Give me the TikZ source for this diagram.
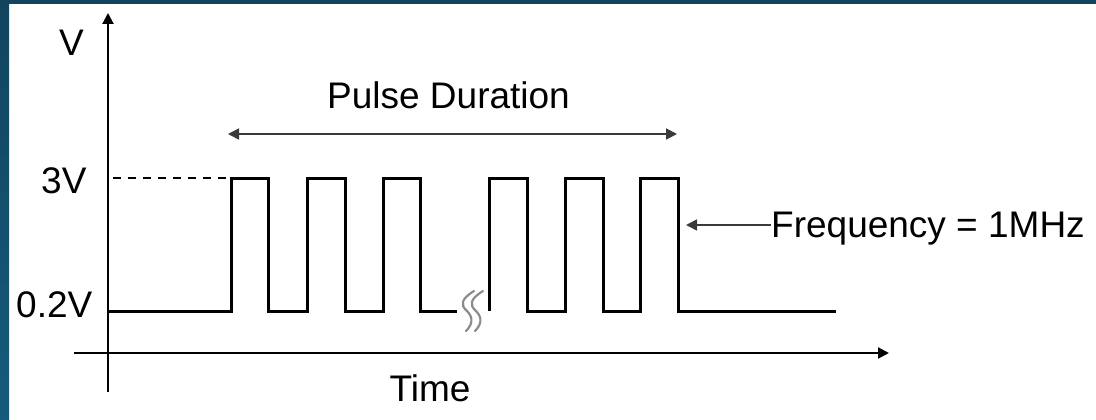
\documentclass[tikz,border=0pt]{standalone}
\usepackage{fontspec}
\setmainfont{Liberation Sans}
\usetikzlibrary{arrows.meta}
\definecolor{frametop}{HTML}{12445E}
\definecolor{framelow}{HTML}{165B7B}
\definecolor{inkgray}{HTML}{3A3A3A}
\definecolor{breakgray}{HTML}{8C8C8C}
\begin{document}
\begin{tikzpicture}[x=1pt,y=-1pt,
  lbl/.style={inner sep=0pt,font=\fontsize{37}{44}\selectfont},
  axisline/.style={line width=2pt,black},
  wave/.style={line width=3pt,black,line join=miter},
  guide/.style={line width=2pt,black,dash pattern=on 8pt off 7pt},
  span/.style={line width=1.6pt,inkgray},
  tip/.style={-{Triangle[length=11pt,width=11pt]}},
  tips/.style={{Triangle[length=11pt,width=11pt]}-{Triangle[length=11pt,width=11pt]}},
  squiggle/.style={line width=2.2pt,breakgray,line cap=round}]
\useasboundingbox (0,0) rectangle (1096,420);
% frame edges
\fill[white] (0,0) rectangle (1096,420);
\fill[frametop] (0,0) rectangle (1096,4);
\shade[top color=frametop,bottom color=framelow] (0,0) rectangle (9,420);

% axes
\coordinate (ybot) at (108,392);
\coordinate (ytop) at (108,13);
\coordinate (xleft) at (74,353);
\coordinate (xright) at (889,353);
\draw[axisline,tip] (ybot) -- (ytop);
\draw[axisline,tip] (xleft) -- (xright);

% axis and level labels
\node[lbl,anchor=base] (vlab) at (71.5,56) {V};
\node[lbl,anchor=base west] (hilab) at (41,193) {3V};
\node[lbl,anchor=base west] (lolab) at (16,317) {0.2V};
\node[lbl,anchor=base] (tlab) at (430,401) {Time};

% 3V guide
\coordinate (g1) at (113,178);
\coordinate (g2) at (229,178);
\draw[guide] (g1) -- (g2);

% pulse train, first burst
\draw[wave] (108,311) -- (231,311) -- (231,178) -- (268,178) -- (268,311)
  -- (307,311) -- (307,178) -- (345,178) -- (345,311)
  -- (383,311) -- (383,178) -- (420,178) -- (420,311) -- (457,311);
% pulse train, after the break
\draw[wave] (489,311) -- (489,178) -- (527,178) -- (527,311)
  -- (565,311) -- (565,178) -- (603,178) -- (603,311)
  -- (640,311) -- (640,178) -- (678,178) -- (678,311) -- (836,311);

% time break marks
\draw[squiggle] (474,291) .. controls (461,299) and (460,305) .. (467,311)
  .. controls (474,318) and (472,325) .. (466,331);
\draw[squiggle] (483,291) .. controls (470,299) and (469,305) .. (476,311)
  .. controls (483,318) and (481,325) .. (475,331);

% pulse duration span
\coordinate (pd1) at (228,134);
\coordinate (pd2) at (677,134);
\draw[span,tips] (pd1) -- (pd2);
\node[lbl,anchor=base west] (pdlab) at (327,108) {Pulse Duration};

% frequency callout
\node[lbl,anchor=base west] (flab) at (771,237) {Frequency = 1MHz};
\coordinate (fend) at (686,225);
\draw[span,tip] (flab.west |- fend) -- (fend);
\end{tikzpicture}
\end{document}
